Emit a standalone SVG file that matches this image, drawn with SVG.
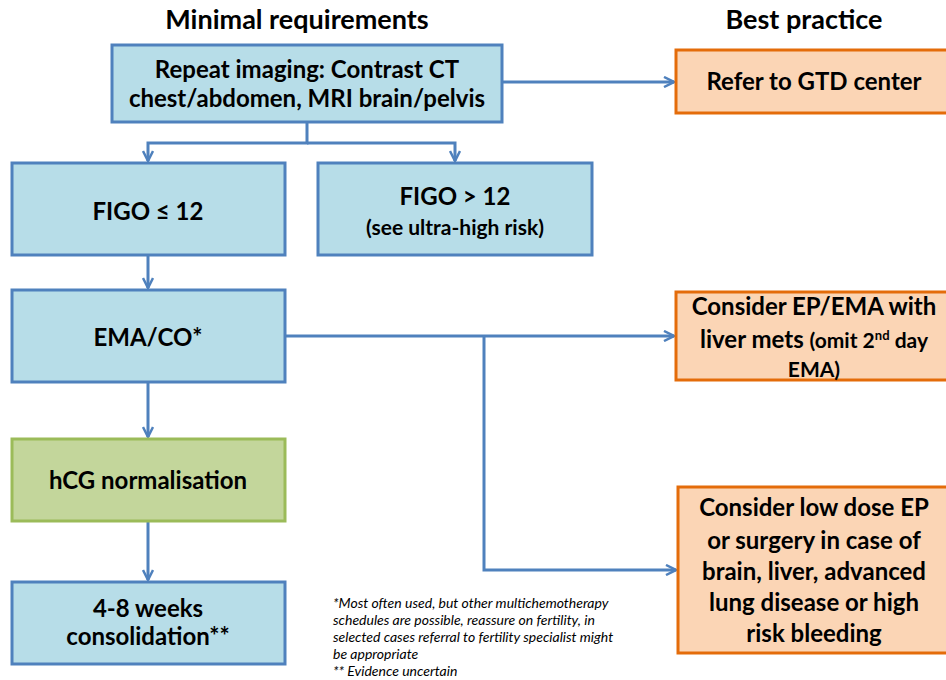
<svg xmlns="http://www.w3.org/2000/svg" width="946" height="680" viewBox="0 0 946 680">
<defs>
<marker id="ah" viewBox="0 0 12 12" refX="11" refY="6" markerWidth="12" markerHeight="12" markerUnits="userSpaceOnUse" orient="auto">
<path d="M1,1 L11,6 L1,11" fill="none" stroke="#4f81bd" stroke-width="2.5"/>
</marker>
</defs>
<style>
.blue{fill:#b7dde8;stroke:#4f81bd;stroke-width:3}
.green{fill:#c3d69b;stroke:#9bbb59;stroke-width:3}
.orange{fill:#fbd5b5;stroke:#e46c0a;stroke-width:3}
.t{font-family:Lato,"Liberation Sans",sans-serif;font-weight:bold;font-size:24px;fill:#000;text-anchor:middle}
.s{font-size:21px}
.h{font-family:Lato,"Liberation Sans",sans-serif;font-weight:bold;font-size:27px;fill:#000;text-anchor:middle}
.c{fill:none;stroke:#4f81bd;stroke-width:3}
.f{font-family:Lato,"Liberation Sans",sans-serif;font-style:italic;font-size:14px;fill:#000}
</style>
<text class="h" x="297" y="29">Minimal requirements</text>
<text class="h" x="804" y="29">Best practice</text>
<g id="connectors">
<path class="c" d="M307,122 V143 H148 V161" marker-end="url(#ah)"/>
<path class="c" d="M307,143 H455 V161" marker-end="url(#ah)"/>
<path class="c" d="M502,82 H674" marker-end="url(#ah)"/>
<path class="c" d="M148,255 V288" marker-end="url(#ah)"/>
<path class="c" d="M285,336 H674" marker-end="url(#ah)"/>
<path class="c" d="M484,336 V570 H676" marker-end="url(#ah)"/>
<path class="c" d="M148,382 V437" marker-end="url(#ah)"/>
<path class="c" d="M148,521 V580" marker-end="url(#ah)"/>
</g>
<g id="imaging">
<rect class="blue" x="112" y="45" width="390" height="77"/>
<text class="t" x="307" y="78">Repeat imaging: Contrast CT</text>
<text class="t" x="307" y="107">chest/abdomen, MRI brain/pelvis</text>
</g>
<g id="gtd">
<rect class="orange" x="676" y="50" width="272" height="63"/>
<text class="t" x="814" y="90">Refer to GTD center</text>
</g>
<g id="figo-low">
<rect class="blue" x="12" y="163" width="273" height="92"/>
<text class="t" x="148" y="220">FIGO ≤ 12</text>
</g>
<g id="figo-high">
<rect class="blue" x="318" y="163" width="274" height="92"/>
<text class="t" x="455" y="205">FIGO &gt; 12</text>
<text class="t s" x="455" y="235">(see ultra-high risk)</text>
</g>
<g id="emaco">
<rect class="blue" x="12" y="290" width="273" height="92"/>
<text class="t" x="148" y="346">EMA/CO*</text>
</g>
<g id="epema">
<rect class="orange" x="676" y="292" width="272" height="88"/>
<text class="t" x="814" y="315">Consider EP/EMA with</text>
<text class="t" x="814" y="348">liver mets <tspan class="s">(omit 2<tspan dy="-8" font-size="13">nd</tspan><tspan dy="8"> day</tspan></tspan></text>
<text class="t s" x="814" y="377">EMA)</text>
</g>
<g id="hcg">
<rect class="green" x="12" y="439" width="273" height="82"/>
<text class="t" x="148" y="489">hCG normalisation</text>
</g>
<g id="lowdose">
<rect class="orange" x="678" y="487" width="270" height="166"/>
<text class="t" x="814" y="516">Consider low dose EP</text>
<text class="t" x="814" y="549">or surgery in case of</text>
<text class="t" x="814" y="580">brain, liver, advanced</text>
<text class="t" x="814" y="611">lung disease or high</text>
<text class="t" x="814" y="642">risk bleeding</text>
</g>
<g id="consolidation">
<rect class="blue" x="12" y="582" width="273" height="82"/>
<text class="t" x="148" y="617">4-8 weeks</text>
<text class="t" x="148" y="645">consolidation**</text>
</g>
<g id="footnote">
<text class="f" x="333" y="608">*Most often used, but other multichemotherapy</text>
<text class="f" x="333" y="625">schedules are possible, reassure on fertility, in</text>
<text class="f" x="333" y="642">selected cases referral to fertility specialist might</text>
<text class="f" x="333" y="659">be appropriate</text>
<text class="f" x="333" y="676">** Evidence uncertain</text>
</g>
</svg>
